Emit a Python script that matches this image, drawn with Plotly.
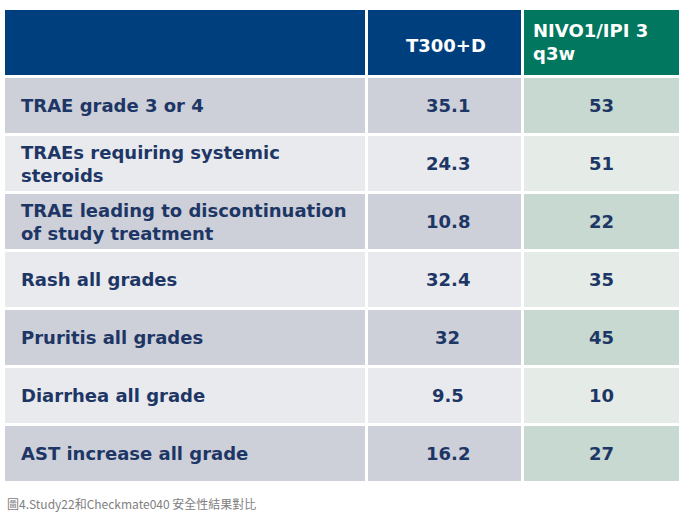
import plotly.graph_objects as go

# table content
row_labels = [
    "TRAE grade 3 or 4",
    "TRAEs requiring systemic<br>steroids",
    "TRAE leading to discontinuation<br>of study treatment",
    "Rash all grades",
    "Pruritis all grades",
    "Diarrhea all grade",
    "AST increase all grade",
]
t300d_values = ["35.1", "24.3", "10.8", "32.4", "32", "9.5", "16.2"]
nivo_values = ["53", "51", "22", "35", "45", "10", "27"]
header_labels = ["", "T300+D", "NIVO1/IPI 3<br>q3w"]
caption = "圖4.Study22和Checkmate040 安全性結果對比"

# geometry in page pixels (axes mapped 1:1 to the canvas)
W, H = 686, 524
col_edges = [(5, 365), (368, 521), (524, 679)]
header_top, header_bottom = 10, 75
row_top0 = 78
row_h, gap = 55, 3

NAVY = "#1d3665"
HEADER_FILL = ["#003f7e", "#003f7e", "#00775e"]
ODD_FILL = ["#cdd0d9", "#cdd0d9", "#c7d9d1"]
EVEN_FILL = ["#e8eaee", "#e8eaee", "#e5ece8"]
FONT = "DejaVu Sans"

shapes = []
annotations = []


def cell(x0, x1, y0, y1, color):
    shapes.append(dict(type="rect", xref="x", yref="y", x0=x0, x1=x1, y0=y0, y1=y1,
                       fillcolor=color, line=dict(width=0), layer="below"))


def text(x, y, s, anchor="center", size=18, color=NAVY):
    annotations.append(dict(x=x, y=y, text=s, showarrow=False, xanchor=anchor, yanchor="middle",
                            align=anchor,
                            font=dict(family=FONT, size=size, color=color, weight="bold")))


# header
for i, (x0, x1) in enumerate(col_edges):
    cell(x0, x1, header_top, header_bottom, HEADER_FILL[i])
text(sum(col_edges[1]) / 2 + 1, (header_top + header_bottom) / 2 + 3, header_labels[1], size=18, color="white")
text(col_edges[2][0] + 7, (header_top + header_bottom) / 2 - 1, header_labels[2], anchor="left",
     size=18, color="white")

# body rows
for r, label in enumerate(row_labels):
    y0 = row_top0 + r * (row_h + gap)
    y1 = y0 + row_h
    fills = ODD_FILL if r % 2 == 0 else EVEN_FILL
    for i, (x0, x1) in enumerate(col_edges):
        cell(x0, x1, y0, y1, fills[i])
    ym = (y0 + y1) / 2
    text(19, ym, label, anchor="left")
    text(sum(col_edges[1]) / 2 + 3, ym, t300d_values[r])
    text(sum(col_edges[2]) / 2, ym, nivo_values[r])

# caption
annotations.append(dict(x=5, y=503, text=caption, showarrow=False, xanchor="left", yanchor="middle",
                        font=dict(family="Noto Sans CJK TC", size=12, color="#808080")))

fig = go.Figure(go.Scatter(x=[], y=[]))
fig.update_layout(
    width=W,
    height=H,
    margin=dict(l=0, r=0, t=0, b=0),
    paper_bgcolor="white",
    plot_bgcolor="white",
    showlegend=False,
    shapes=shapes,
    annotations=annotations,
    xaxis=dict(range=[0, W], visible=False, fixedrange=True),
    yaxis=dict(range=[H, 0], visible=False, fixedrange=True),
)

# drop the default page margin so the figure sits at the window origin
fig.write_html("out.html", config={"displayModeBar": False},
               post_script="document.body.style.margin = '0px';")
